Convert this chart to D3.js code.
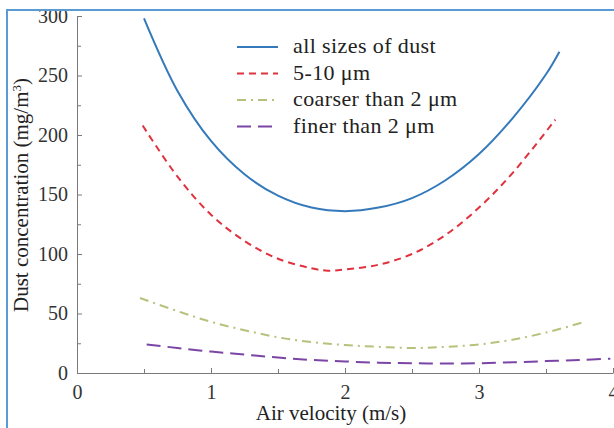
<!DOCTYPE html>
<html>
<head>
<meta charset="utf-8">
<script src="https://cdn.jsdelivr.net/npm/d3@7"></script>
<style>
  body { margin: 0; background: #fff; }
  svg { display: block; font-family: "Liberation Serif", "DejaVu Serif", serif; }
</style>
</head>
<body>
<div id="chart"></div>
<script>
// Data
const allSizes = [[0.5,298],[0.75,237],[1.0,195],[1.25,167],[1.5,149],[1.75,139],[2.0,136],[2.25,139],[2.5,147],[2.75,162],[3.0,184],[3.25,214],[3.5,251],[3.6,270]];
const size5to10 = [[0.49,208],[0.75,165],[1.0,133],[1.25,111],[1.5,96],[1.75,88],[1.87,86],[2.0,87],[2.25,91],[2.5,100],[2.75,116],[3.0,139],[3.25,168],[3.57,213]];
const coarser2 = [[0.47,63],[0.75,52],[1.0,43],[1.25,36],[1.5,30],[1.75,26],[2.0,23.5],[2.25,22],[2.5,21],[2.75,22],[3.0,24],[3.25,28],[3.5,34],[3.79,43]];
const finer2 = [[0.52,24],[0.75,21],[1.0,18],[1.25,15.5],[1.5,13],[1.75,11],[2.0,9.7],[2.25,8.7],[2.5,8.2],[2.75,8],[3.0,8.2],[3.25,9],[3.5,10],[3.75,11],[3.98,12]];

const xTicks = [0, 1, 2, 3, 4];
const yTicks = [0, 50, 100, 150, 200, 250, 300];

const series = [
  { name: "all sizes of dust", values: allSizes, color: "#3479ba", dash: null },
  { name: "5-10 \u03bcm", values: size5to10, color: "#e0323e", dash: "7,5" },
  { name: "coarser than 2 \u03bcm", values: coarser2, color: "#b6c27c", dash: "9,5,2,5" },
  { name: "finer than 2 \u03bcm", values: finer2, color: "#7b45a5", dash: "14,7" }
];

const width = 614, height = 428;
const svg = d3.select("#chart").append("svg")
    .attr("width", width)
    .attr("height", height);

const x = d3.scaleLinear().domain([0, 4]).range([77, 613]);
const y = d3.scaleLinear().domain([0, 300]).range([373, 16]);

// minor ticks (inward, no labels)
svg.append("g")
    .attr("transform", "translate(0,373)")
    .call(d3.axisBottom(x).tickValues(d3.range(0.5, 4, 1)).tickSize(-4).tickFormat(""))
    .call(g => g.select(".domain").remove());
svg.append("g")
    .attr("transform", "translate(77,0)")
    .call(d3.axisLeft(y).tickValues(d3.range(25, 300, 50)).tickSize(-4).tickFormat(""))
    .call(g => g.select(".domain").remove());

// major axes
svg.append("g")
    .attr("transform", "translate(0,373)")
    .call(d3.axisBottom(x).tickValues(xTicks).tickSize(-5).tickSizeOuter(0).tickPadding(12).tickFormat(d3.format("d")));
svg.append("g")
    .attr("transform", "translate(77,0)")
    .call(d3.axisLeft(y).tickValues(yTicks).tickSize(-5).tickSizeOuter(0).tickPadding(9).tickFormat(d3.format("d")));

svg.selectAll(".domain, .tick line").attr("stroke", "#7a7a7a");
svg.selectAll(".tick text")
    .attr("fill", "#333")
    .style("font-size", "20px")
    .style("font-family", "'Liberation Serif', serif");

// curves
const line = d3.line()
    .x(d => x(d[0]))
    .y(d => y(d[1]))
    .curve(d3.curveCatmullRom.alpha(0.5));

svg.append("g")
    .selectAll("path")
    .data(series)
    .enter()
    .append("path")
    .attr("d", d => line(d.values))
    .attr("fill", "none")
    .attr("stroke", d => d.color)
    .attr("stroke-width", 2)
    .attr("stroke-dasharray", d => d.dash);

// legend
const legend = svg.append("g");
series.forEach((s, i) => {
  const ly = 47 + i * 26.5;
  legend.append("line")
      .attr("x1", 237).attr("x2", 278)
      .attr("y1", ly).attr("y2", ly)
      .attr("stroke", s.color)
      .attr("stroke-width", 2)
      .attr("stroke-dasharray", s.dash);
  legend.append("text")
      .attr("x", 293).attr("y", ly + 6)
      .attr("fill", "#222")
      .style("font-size", "22px")
      .style("letter-spacing", "0.4px")
      .text(s.name);
});

// axis titles
svg.append("text")
    .attr("x", 331).attr("y", 420)
    .attr("text-anchor", "middle")
    .attr("fill", "#222")
    .style("font-size", "21px")
    .text("Air velocity (m/s)");

const yTitle = svg.append("text")
    .attr("transform", "translate(28,195) rotate(-90)")
    .attr("text-anchor", "middle")
    .attr("fill", "#222")
    .style("font-size", "21px");
yTitle.append("tspan").text("Dust concentration (mg/m");
yTitle.append("tspan").attr("baseline-shift", "super").style("font-size", "13px").text("3");
yTitle.append("tspan").text(")");

// frame
svg.append("rect")
    .attr("x", 7).attr("y", 10)
    .attr("width", 700).attr("height", 500)
    .attr("fill", "none")
    .attr("stroke", "#5b9bd5")
    .attr("stroke-width", 2);
</script>
</body>
</html>
